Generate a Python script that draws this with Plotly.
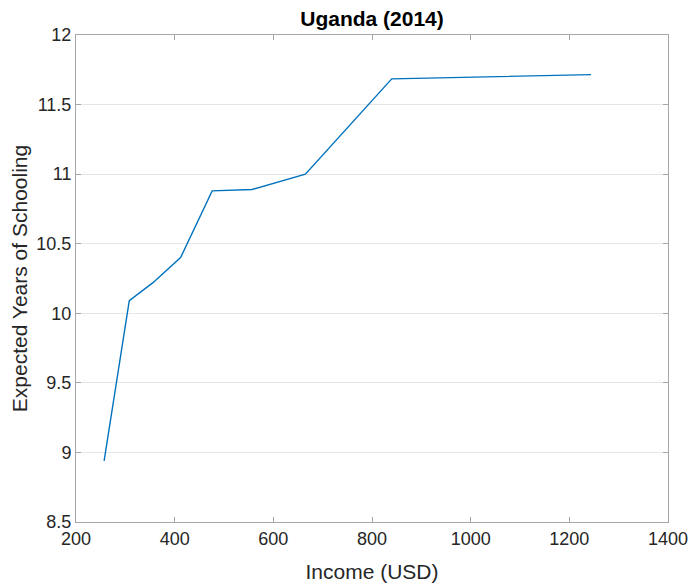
import plotly.graph_objects as go

income = [257, 308, 356, 412, 476, 557, 665, 840, 1244]
schooling = [8.94, 10.09, 10.22, 10.40, 10.88, 10.89, 11.00, 11.685, 11.715]

x_ticks = [200, 400, 600, 800, 1000, 1200, 1400]
y_ticks = [8.5, 9, 9.5, 10, 10.5, 11, 11.5, 12]

FONT = "Liberation Sans, Arial, sans-serif"

fig = go.Figure()
fig.add_trace(go.Scatter(x=income, y=schooling, mode="lines",
                         line=dict(color="#0072BD", width=1.4)))

axis_common = dict(
    showline=True, mirror="ticks", linecolor="#a6a6a6", linewidth=1,
    ticks="inside", ticklen=5, tickcolor="#a6a6a6", tickwidth=1,
    zeroline=False, automargin=False,
    tickfont=dict(family=FONT, size=18, color="#262626"),
    title_font=dict(family=FONT, size=21, color="#262626"),
)

fig.update_layout(
    width=693, height=584,
    margin=dict(l=76, r=25, t=35, b=62),
    paper_bgcolor="white", plot_bgcolor="white",
    showlegend=False,
    title=dict(text="<b>Uganda (2014)</b>", x=(76 + 668) / 2 / 693, xanchor="center",
               y=1 - 19 / 584, yanchor="middle",
               font=dict(family=FONT, size=21, color="#000000")),
    xaxis=dict(range=[200, 1400], tickvals=x_ticks, showgrid=False,
               title=dict(text="Income (USD)", standoff=16), **axis_common),
    yaxis=dict(range=[8.5, 12], tickvals=y_ticks, showgrid=True, gridcolor="#e6e6e6",
               title=dict(text="Expected Years of Schooling", standoff=3), **axis_common),
)

fig.write_html("out.html", config={"displayModeBar": False},
               post_script="document.body.style.margin='0';document.body.style.overflow='hidden';")
